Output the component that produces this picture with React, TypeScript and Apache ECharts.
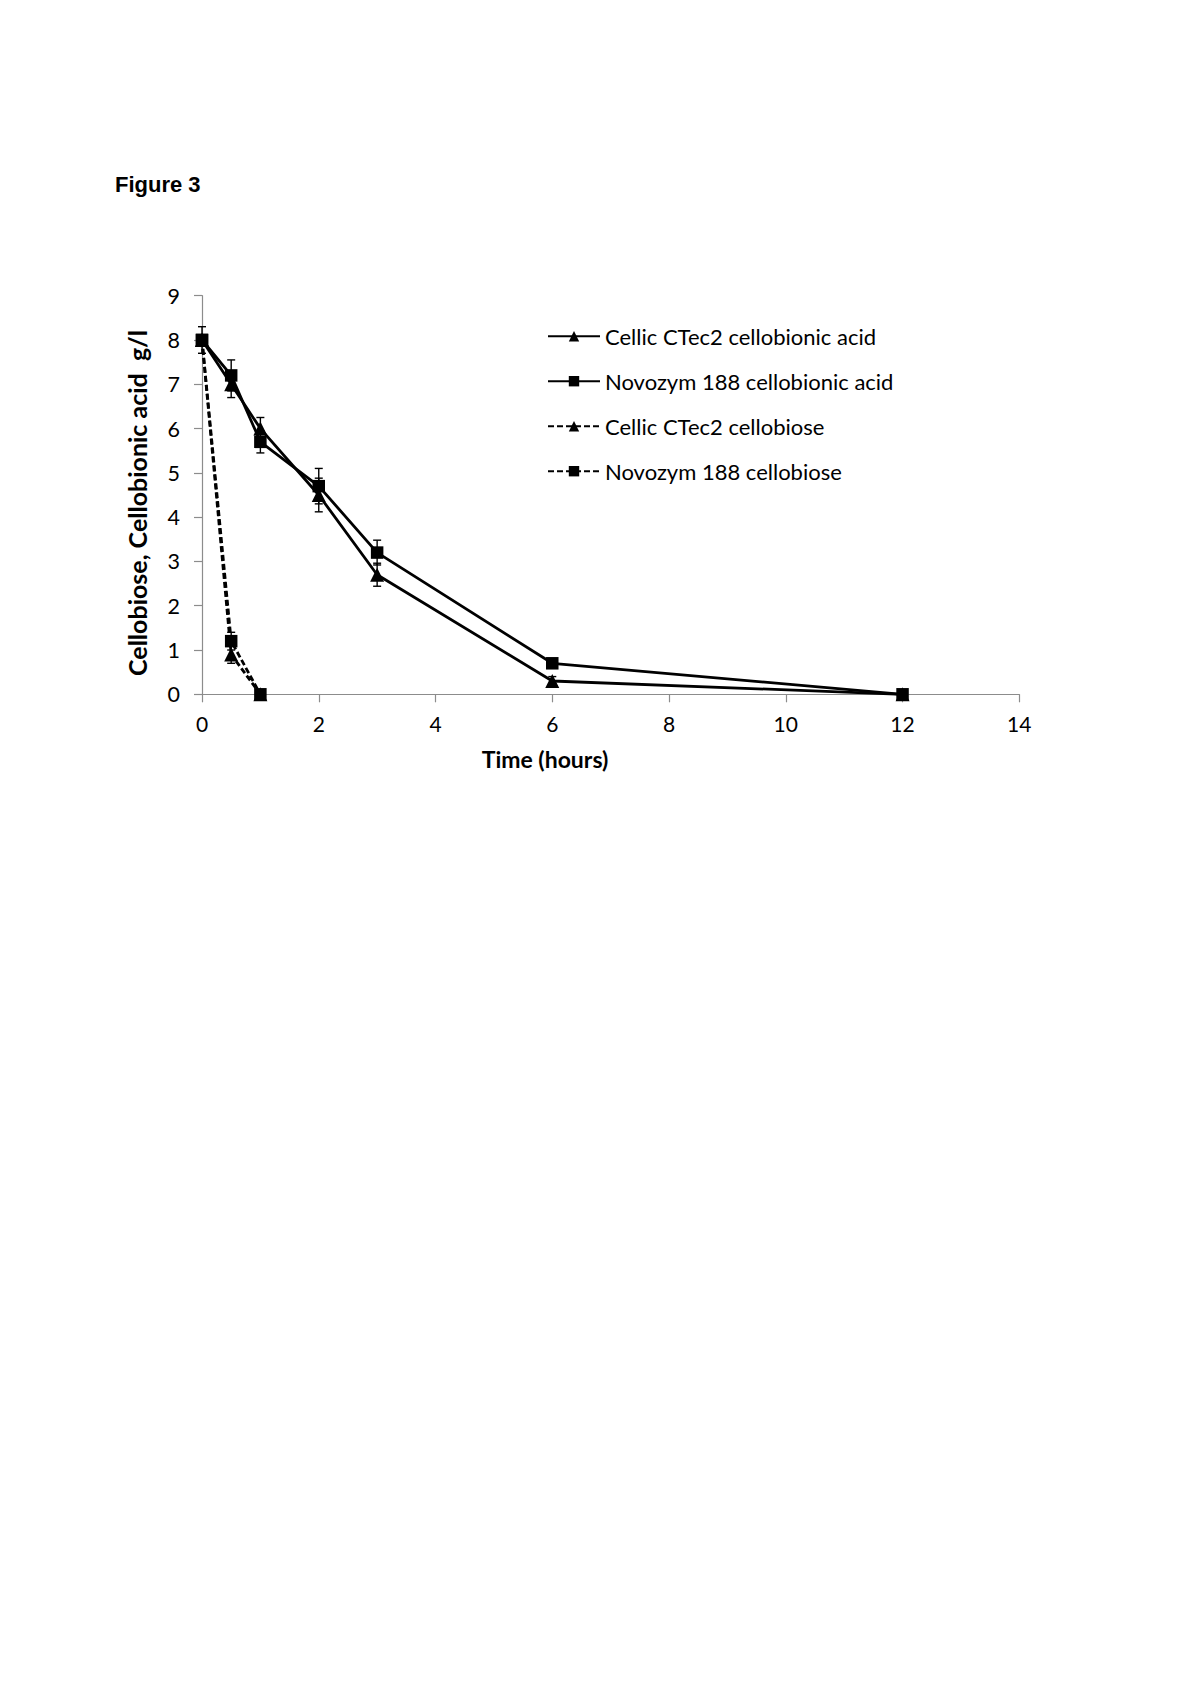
import React, { useEffect, useRef } from "react";
import * as echarts from "echarts";

const timeAcid = [0, 0.5, 1, 2, 3, 6, 12];
const ctec2Acid = [8, 7.0, 6.0, 4.5, 2.7, 0.3, 0];
const ctec2AcidErr = [0, 0.3, 0.25, 0.38, 0.26, 0.1, 0];
const novoAcid = [8, 7.2, 5.7, 4.7, 3.2, 0.7, 0];
const novoAcidErr = [0.3, 0.35, 0.25, 0.4, 0.28, 0.05, 0];
const timeBiose = [0, 0.5, 1];
const ctec2Biose = [8, 0.9, 0];
const ctec2BioseErr = [0, 0.2, 0];
const novoBiose = [8, 1.2, 0];
const novoBioseErr = [0, 0.2, 0];

const seriesNames = [
  "Cellic CTec2 cellobionic acid",
  "Novozym 188 cellobionic acid",
  "Cellic CTec2 cellobiose",
  "Novozym 188 cellobiose",
];
const figureTitle = "Figure 3";
const xTitle = "Time (hours)";
const yTitle = "Cellobiose, Cellobionic acid  g/l";

const FONT = "Lato";

function pairs(xs: number[], ys: number[], es: number[]) {
  return xs.map((x, i) => [x, ys[i], es[i]]);
}

export default function App() {
  const ref = useRef<HTMLDivElement>(null);
  useEffect(() => {
    const chart = echarts.init(ref.current!, null, { renderer: "svg" });
    const lineSeries = (name: string, data: number[][], symbol: string, dashed: boolean) => ({
      name,
      type: "line",
      data: data.map((d) => [d[0], d[1]]),
      symbol,
      symbolSize: symbol === "triangle" ? 14 : 12.5,
      clip: false,
      itemStyle: { color: "#000" },
      lineStyle: { color: "#000", width: 2.8, type: dashed ? [6, 3] : "solid" },
      z: 3,
    });
    const errSeries = (name: string, data: number[][]) => ({
      name,
      type: "custom",
      data,
      clip: false,
      z: 4,
      renderItem: (params: any, api: any) => {
        const x = api.value(0);
        const y = api.value(1);
        const e = api.value(2);
        if (!e) return null;
        const top = api.coord([x, y + e]);
        const bot = api.coord([x, y - e]);
        const w = 4;
        const st = { stroke: "#000", lineWidth: 1.4 };
        return {
          type: "group",
          children: [
            { type: "line", shape: { x1: top[0], y1: top[1], x2: bot[0], y2: bot[1] }, style: st },
            { type: "line", shape: { x1: top[0] - w, y1: top[1], x2: top[0] + w, y2: top[1] }, style: st },
            { type: "line", shape: { x1: bot[0] - w, y1: bot[1], x2: bot[0] + w, y2: bot[1] }, style: st },
          ],
        };
      },
    });
    const d1 = pairs(timeAcid, ctec2Acid, ctec2AcidErr);
    const d2 = pairs(timeAcid, novoAcid, novoAcidErr);
    const d3 = pairs(timeBiose, ctec2Biose, ctec2BioseErr);
    const d4 = pairs(timeBiose, novoBiose, novoBioseErr);
    chart.setOption({
      animation: false,
      backgroundColor: "#fff",
      textStyle: { fontFamily: FONT },
      grid: { left: 202, top: 295.7, width: 817.3, height: 398.6, containLabel: false },
      xAxis: {
        type: "value",
        min: 0,
        max: 14,
        interval: 2,
        axisLine: { lineStyle: { color: "#8c8c8c", width: 1.2 } },
        axisTick: { show: true, length: 8, inside: false, lineStyle: { color: "#8c8c8c", width: 1.2 } },
        axisLabel: { color: "#000", fontSize: 21, fontFamily: FONT, margin: 19 },
        splitLine: { show: false },
      },
      yAxis: {
        type: "value",
        min: 0,
        max: 9,
        interval: 1,
        axisLine: { show: true, lineStyle: { color: "#8c8c8c", width: 1.2 } },
        axisTick: { show: true, length: 8, inside: false, lineStyle: { color: "#8c8c8c", width: 1.2 } },
        axisLabel: { color: "#000", fontSize: 21.5, fontFamily: FONT, margin: 22 },
        splitLine: { show: false },
      },
      legend: {
        orient: "vertical",
        left: 547,
        top: 325.2,
        padding: 0,
        itemWidth: 52,
        itemHeight: 13,
        itemGap: 23,
        data: seriesNames,
        textStyle: { color: "#000", fontSize: 22, fontFamily: FONT, lineHeight: 22 },
      },
      graphic: [
        {
          type: "text",
          left: 115,
          top: 173,
          style: { text: figureTitle, font: "bold 22px 'Liberation Sans', Arial, sans-serif", fill: "#000" },
        },
        {
          type: "text",
          x: 545,
          y: 759,
          style: {
            text: xTitle,
            font: `bold 23px ${FONT}`,
            fill: "#000",
            align: "center",
            verticalAlign: "middle",
          },
        },
        {
          type: "text",
          x: 137,
          y: 503,
          rotation: Math.PI / 2,
          style: {
            text: yTitle,
            font: `bold 25px ${FONT}`,
            fill: "#000",
            align: "center",
            verticalAlign: "middle",
          },
        },
      ],
      series: [
        lineSeries(seriesNames[0], d1, "triangle", false),
        lineSeries(seriesNames[1], d2, "rect", false),
        lineSeries(seriesNames[2], d3, "triangle", true),
        lineSeries(seriesNames[3], d4, "rect", true),
        errSeries("err1", d1),
        errSeries("err2", d2),
        errSeries("err3", d3),
        errSeries("err4", d4),
      ],
    });
    return () => chart.dispose();
  }, []);
  return (
    <div
      ref={ref}
      style={{ position: "absolute", left: 0, top: 0, width: 1200, height: 1698, background: "#fff" }}
    />
  );
}
